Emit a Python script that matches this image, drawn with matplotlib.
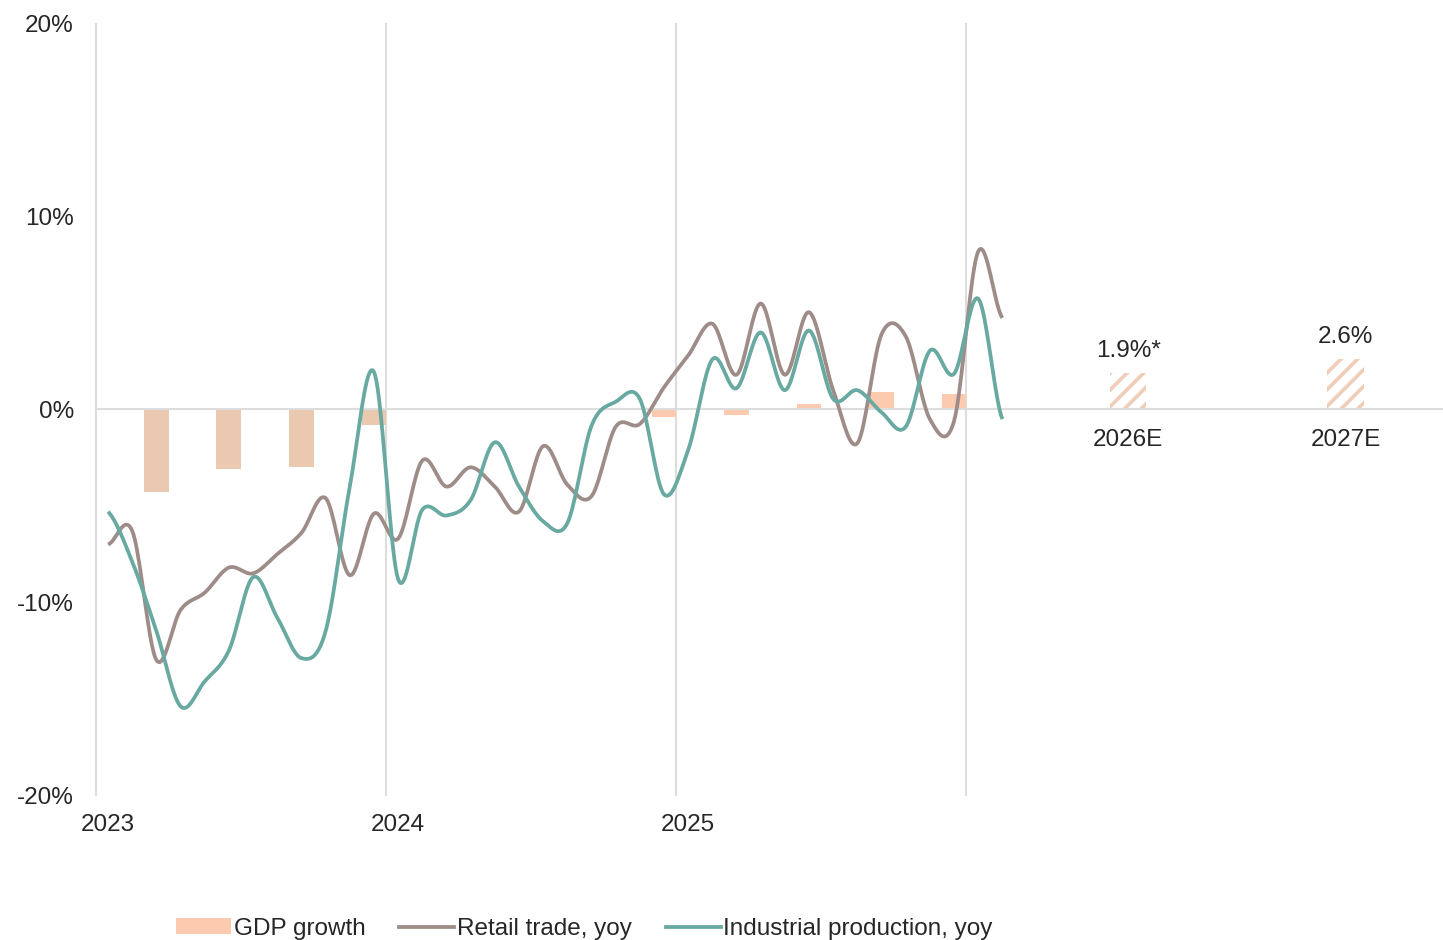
import numpy as np
import matplotlib
matplotlib.use("Agg")
import matplotlib.pyplot as plt
from matplotlib.patches import Patch
from matplotlib.lines import Line2D

# monthly yoy, Jan 2023 .. Feb 2026
retail = [-7.0, -6.3, -13.0, -10.4, -9.5, -8.2, -8.5, -7.5, -6.4, -4.6, -8.6, -5.4,
          -6.7, -2.65, -4.0, -3.0, -4.0, -5.3, -1.9, -3.9, -4.5, -0.9, -0.75, 1.15,
          2.8, 4.45, 1.8, 5.5, 1.8, 5.05, 1.0, -1.75, 3.9, 3.8, -0.5, -0.6,
          8.2, 4.75]
industry = [-5.3, -7.9, -11.5, -15.4, -14.1, -12.5, -8.7, -10.8, -12.9, -11.5, -4.0, 1.95,
            -8.8, -5.2, -5.5, -4.7, -1.7, -4.0, -5.8, -5.9, -0.85, 0.4, 0.55, -4.4,
            -2.1, 2.6, 1.1, 4.0, 1.0, 4.1, 0.55, 1.0, -0.15, -0.9, 3.05, 1.85,
            5.75, -0.5]
# quarterly GDP growth, Q1 2023 .. Q4 2025
gdp = [-4.3, -3.1, -3.0, -0.8, 0.0, 0.0, 0.1, -0.4, -0.3, 0.3, 0.9, 0.8]
forecast_labels = ["2026E", "2027E"]
forecast_values = [1.9, 2.6]
forecast_texts = ["1.9%*", "2.6%"]
year_labels = ["2023", "2024", "2025"]
ytick_values = [-20, -10, 0, 10, 20]

PEACH = "#fccbaf"
PEACH_DARK = "#ebc9b0"
HATCH = "#efcdb6"
BROWN = "#9e8c88"
TEAL = "#68a9a1"
GRID = "#dddddd"
TXT = "#262626"

plt.rcParams["font.family"] = ["Liberation Sans", "DejaVu Sans"]
plt.rcParams["font.size"] = 17.5
plt.rcParams["hatch.linewidth"] = 2.6


def smooth(y, n=20):
    # catmull-rom through the monthly points
    y = np.asarray(y, float)
    p = np.concatenate([[y[0]], y, [y[-1]]])
    xs, ys = [], []
    t = np.linspace(0, 1, n, endpoint=False)
    for i in range(len(y) - 1):
        p0, p1, p2, p3 = p[i], p[i + 1], p[i + 2], p[i + 3]
        seg = 0.5 * ((2 * p1) + (-p0 + p2) * t + (2 * p0 - 5 * p1 + 4 * p2 - p3) * t ** 2
                     + (-p0 + 3 * p1 - 3 * p2 + p3) * t ** 3)
        xs.append(i + t)
        ys.append(seg)
    xs.append([len(y) - 1])
    ys.append([y[-1]])
    return np.concatenate(xs) + 0.5, np.concatenate(ys)


fig = plt.figure(figsize=(14.43, 9.4), dpi=100)
ax = fig.add_axes([96 / 1443, 1 - 795 / 940, 1 - 96 / 1443, (795 - 24) / 940])
ax.set_xlim(0, 55.73)
ax.set_ylim(-20, 20)

for s in ax.spines.values():
    s.set_visible(False)

for m in [0, 12, 24, 36]:
    ax.axvline(m, color=GRID, lw=1.5, zorder=1, clip_on=False)
ax.axhline(0, color=GRID, lw=1.5, zorder=2.5)

# quarterly gdp bars at quarter-end months
qx = np.arange(len(gdp)) * 3 + 2.5
colors = [PEACH_DARK if i < 4 else PEACH for i in range(len(gdp))]
ax.bar(qx, gdp, width=1.03, color=colors, zorder=2)

# forecast bars
fx = 42.7 + 9 * np.arange(len(forecast_values))
fb = ax.bar(fx, forecast_values, width=1.5, facecolor="white", edgecolor=HATCH,
            linewidth=0, hatch="//", zorder=2)
ax.bar_label(fb, labels=forecast_texts, padding=8, color=TXT)
for x, lab in zip(fx, forecast_labels):
    ax.annotate(lab, (x, 0), xytext=(0, -22), textcoords="offset points",
                ha="center", va="center", color=TXT)

xr, yr = smooth(retail)
xi, yi = smooth(industry)
ax.plot(xr, yr, color=BROWN, lw=2.7, zorder=3, solid_capstyle="butt")
ax.plot(xi, yi, color=TEAL, lw=2.7, zorder=3, solid_capstyle="butt")

ax.set_yticks(ytick_values)
ax.set_yticklabels([f"{v}%" for v in ytick_values])
ax.set_xticks([0.5, 12.5, 24.5])
ax.set_xticklabels(year_labels)
ax.tick_params(axis="y", length=0, pad=16, colors=TXT)
ax.tick_params(axis="x", length=0, pad=14, colors=TXT)

handles = [Patch(facecolor=PEACH, edgecolor="none"),
           Line2D([], [], color=BROWN, lw=2.7),
           Line2D([], [], color=TEAL, lw=2.7)]
fig.legend(handles, ["GDP growth", "Retail trade, yoy", "Industrial production, yoy"],
           loc="center", bbox_to_anchor=(0.405, 0.012), ncol=3, frameon=False,
           handlelength=2.25, handleheight=0.6, handletextpad=0.12, columnspacing=1.4,
           labelcolor=TXT)

fig.savefig("out.png", dpi=100)
